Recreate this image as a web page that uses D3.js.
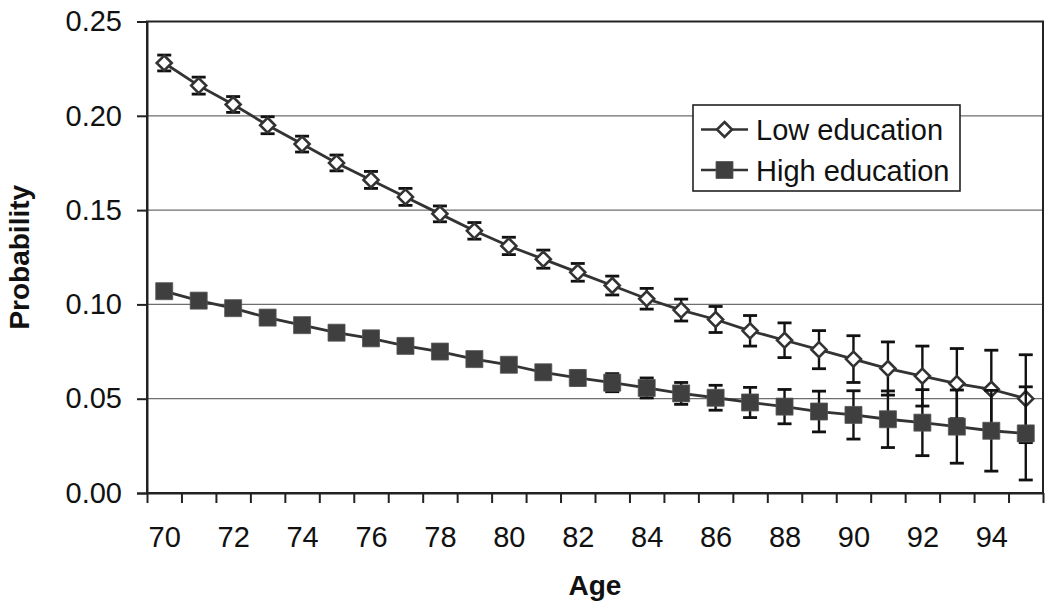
<!DOCTYPE html>
<html lang="en">
<head>
<meta charset="UTF-8">
<title>Probability by age and education</title>
<script src="https://d3js.org/d3.v7.min.js"></script>
<style>
  body { margin: 0; background: #fff; }
  .axis text { font-family: "Liberation Sans", Arial, sans-serif; font-size: 29px; fill: #111; }
  .axis path, .axis line { stroke: #222; stroke-width: 2; }
</style>
</head>
<body>
<script>
// data
var ages = d3.range(70, 96);
var lowEdu = [0.228, 0.216, 0.206, 0.195, 0.185, 0.175, 0.166, 0.157, 0.148, 0.139, 0.131, 0.124, 0.117,
              0.110, 0.103, 0.097, 0.092, 0.086, 0.081, 0.076, 0.071, 0.066, 0.062, 0.058, 0.055, 0.050];
var lowErr = [0.0042, 0.0045, 0.0042, 0.0045, 0.0042, 0.0042, 0.0045, 0.0045, 0.0042, 0.0044, 0.0046, 0.0048, 0.0047,
              0.0050, 0.0055, 0.0058, 0.0069, 0.0081, 0.0092, 0.0101, 0.0124, 0.0141, 0.0159, 0.0186, 0.0207, 0.0233];
var highEdu = [0.107, 0.102, 0.098, 0.093, 0.089, 0.085, 0.082, 0.078, 0.075, 0.071, 0.068, 0.064, 0.061,
               0.0585, 0.0557, 0.0528, 0.0505, 0.048, 0.0458, 0.0432, 0.0414, 0.0391, 0.0373, 0.0352, 0.033, 0.0316];
var highErr = [0.0022, 0.0022, 0.0023, 0.0024, 0.0025, 0.0026, 0.0027, 0.0028, 0.003, 0.0031, 0.0033, 0.0035, 0.0038,
               0.0048, 0.0053, 0.0058, 0.0066, 0.008, 0.0091, 0.0108, 0.0128, 0.015, 0.0175, 0.0194, 0.0214, 0.0247];
var yTicks = [0, 0.05, 0.10, 0.15, 0.20, 0.25];
var xLabels = d3.range(70, 96, 2);
var seriesNames = ["Low education", "High education"];

var w = 1050, h = 609;
var pLeft = 147, pRight = 1043, pTop = 21.5, pBottom = 493;

var svg = d3.select("body").append("svg").attr("width", w).attr("height", h);

var x = d3.scaleLinear().domain([69.5, 95.5]).range([pLeft, pRight]);
var y = d3.scaleLinear().domain([0, 0.25]).range([pBottom, pTop]);

// gridlines
svg.append("g").selectAll("line")
  .data(yTicks.slice(1, 5))
  .enter().append("line")
  .attr("x1", pLeft).attr("x2", pRight)
  .attr("y1", function(d) { return y(d); })
  .attr("y2", function(d) { return y(d); })
  .attr("stroke", "#6e6e6e").attr("stroke-width", 1.3);

// plot border
svg.append("rect")
  .attr("x", pLeft).attr("y", pTop)
  .attr("width", pRight - pLeft).attr("height", pBottom - pTop)
  .attr("fill", "none").attr("stroke", "#222").attr("stroke-width", 2);

// y axis
svg.append("g").attr("class", "axis")
  .attr("transform", "translate(" + pLeft + ",0)")
  .call(d3.axisLeft(y).tickValues(yTicks).tickFormat(d3.format(".2f")).tickSize(10).tickPadding(15));

// x axis: tick marks on category boundaries, labels on even ages
svg.append("g").attr("class", "axis")
  .attr("transform", "translate(0," + pBottom + ")")
  .call(d3.axisBottom(x).tickValues(d3.range(69.5, 96, 1)).tickFormat("").tickSize(10).tickSizeOuter(0));
var xl = svg.append("g").attr("class", "axis")
  .attr("transform", "translate(0," + pBottom + ")")
  .call(d3.axisBottom(x).tickValues(xLabels).tickFormat(d3.format("d")).tickSize(0).tickPadding(33));
xl.select(".domain").remove();

// axis titles
svg.append("text")
  .attr("x", (pLeft + pRight) / 2).attr("y", 595)
  .attr("text-anchor", "middle")
  .attr("font-family", "Liberation Sans, Arial, sans-serif")
  .attr("font-size", "28px").attr("font-weight", "bold").attr("fill", "#111")
  .text("Age");
svg.append("text")
  .attr("transform", "translate(29," + ((pTop + pBottom) / 2) + ") rotate(-90)")
  .attr("text-anchor", "middle")
  .attr("font-family", "Liberation Sans, Arial, sans-serif")
  .attr("font-size", "28px").attr("font-weight", "bold").attr("fill", "#111")
  .text("Probability");

function drawSeries(vals, errs, marker) {
  var data = ages.map(function(a, i) { return { age: a, v: vals[i], e: errs[i] }; });
  var g = svg.append("g");
  // error bars
  var eb = g.selectAll(".eb").data(data).enter().append("g");
  eb.append("line")
    .attr("x1", function(d) { return x(d.age); }).attr("x2", function(d) { return x(d.age); })
    .attr("y1", function(d) { return y(d.v - d.e); }).attr("y2", function(d) { return y(d.v + d.e); })
    .attr("stroke", "#111").attr("stroke-width", 2.4);
  [-1, 1].forEach(function(s) {
    eb.append("line")
      .attr("x1", function(d) { return x(d.age) - 7; }).attr("x2", function(d) { return x(d.age) + 7; })
      .attr("y1", function(d) { return y(d.v + s * d.e); }).attr("y2", function(d) { return y(d.v + s * d.e); })
      .attr("stroke", "#111").attr("stroke-width", 2.8);
  });
  // line
  g.append("path").datum(data)
    .attr("fill", "none").attr("stroke", "#333").attr("stroke-width", 2.8)
    .attr("d", d3.line().x(function(d) { return x(d.age); }).y(function(d) { return y(d.v); }));
  // markers
  g.selectAll(".m").data(data).enter().append("path")
    .attr("transform", function(d) { return "translate(" + x(d.age) + "," + y(d.v) + ")"; })
    .attr("d", marker.d)
    .attr("fill", marker.fill).attr("stroke", marker.stroke).attr("stroke-width", marker.sw);
}

var diamond = { d: "M0,-7.5L7.5,0L0,7.5L-7.5,0Z", fill: "#fff", stroke: "#333", sw: 2.6 };
var square = { d: "M-8.5,-8.5H8.5V8.5H-8.5Z", fill: "#3f3f3f", stroke: "#555", sw: 0.8 };

drawSeries(lowEdu, lowErr, diamond);
drawSeries(highEdu, highErr, square);

// legend
var lg = svg.append("g");
lg.append("rect")
  .attr("x", 693).attr("y", 105).attr("width", 267).attr("height", 86)
  .attr("fill", "#fff").attr("stroke", "#222").attr("stroke-width", 1.6);
[diamond, square].forEach(function(m, i) {
  var cy = 129.5 + i * 40.5;
  lg.append("line").attr("x1", 701).attr("x2", 748).attr("y1", cy).attr("y2", cy)
    .attr("stroke", "#333").attr("stroke-width", 2.6);
  lg.append("path").attr("transform", "translate(724.5," + cy + ")")
    .attr("d", m.d).attr("fill", m.fill).attr("stroke", m.stroke).attr("stroke-width", m.sw);
  lg.append("text").attr("x", 756).attr("y", cy + 10.5)
    .attr("font-family", "Liberation Sans, Arial, sans-serif")
    .attr("font-size", "29px").attr("fill", "#111")
    .text(seriesNames[i]);
});
</script>
</body>
</html>
